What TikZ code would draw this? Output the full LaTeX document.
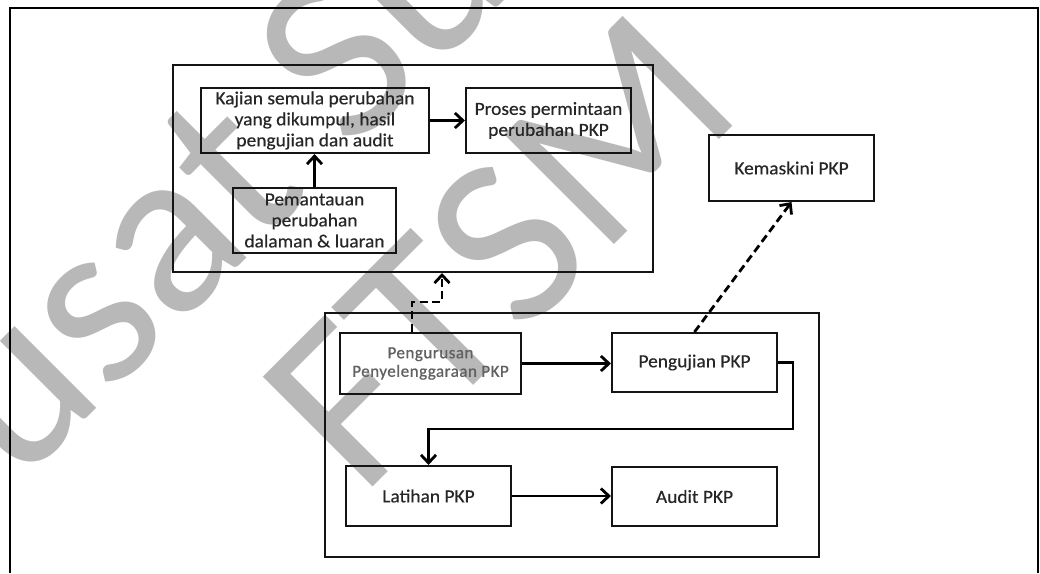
\documentclass[tikz,border=0pt]{standalone}
\usepackage{fontspec}
\setmainfont[FakeStretch=1.05,FakeBold=0.4]{Carlito}
\newfontfamily\mgmtfont[LetterSpace=3,FakeBold=0.9]{Carlito}
\newfontfamily\markfont{Carlito}
\usetikzlibrary{arrows.meta,calc}

\tikzset{
  box/.style={draw=black!92, line width=2.1pt, align=center, inner sep=0pt,
    text=black!85, font=\fontsize{18.5}{21}\selectfont},
  frame/.style={draw=black!92, line width=2pt, inner sep=0pt},
  conn/.style={draw=black, line width=2.8pt,
    -{Straight Barb[length=8pt,width=15pt]}},
  dconn/.style={conn, dash pattern=on 8pt off 4.5pt},
  wmark/.style={text=black!28, inner sep=0pt, anchor=base west, rotate=45,
    font=\markfont\fontsize{242}{250}\selectfont}
}

\begin{document}
\begin{tikzpicture}[x=1pt,y=-1pt]
\useasboundingbox (0,0) rectangle (1040,573);
\fill[white] (0,0) rectangle (1040,573);

% watermark behind the chart
\begin{scope}
\clip (0,0) rectangle (1040,573);
\node[wmark] (wm1) at (-70,575) {Pusat Sumber};
\node[wmark] (wm2) at (361,498.5) {FTSM};
\end{scope}

% page frame (runs past the lower edge)
\draw[line width=2.4pt] (10,573) -- (10,8) -- (1038,8) -- (1038,573);

% review group
\node[frame, minimum width=480pt, minimum height=207pt] (top) at (413,168.5) {};
\node[box, minimum width=228pt, minimum height=65pt] (kaj) at (315,120.5)
  {Kajian semula perubahan\\yang dikumpul, hasil\\pengujian dan audit};
\node[box, minimum width=165pt, minimum height=65pt] (proses) at (548.5,120.5)
  {Proses permintaan\\perubahan PKP};
\node[box, minimum width=163pt, minimum height=65pt] (pem) at (314.5,220.5)
  {Pemantauan\\perubahan\\dalaman \& luaran};

% update box
\node[box, minimum width=165pt, minimum height=66pt] (kem) at (791.5,168)
  {Kemaskini PKP};

% maintenance group
\node[frame, minimum width=494pt, minimum height=244pt] (bot) at (572,435) {};
\node[box, minimum width=181pt, minimum height=61pt, text=black!62,
  font=\mgmtfont\fontsize{17}{18.5}\selectfont] (peng) at (430.5,363.5)
  {Pengurusan\\Penyelenggaraan PKP};
\node[box, minimum width=165pt, minimum height=59pt] (uji) at (694.5,362.5)
  {Pengujian PKP};
\node[box, minimum width=165pt, minimum height=60pt] (lat) at (428.5,496)
  {Latihan PKP};
\node[box, minimum width=165pt, minimum height=59pt] (aud) at (694.5,496.5)
  {Audit PKP};

% solid flow
\draw[conn] (pem.north) -- (pem.north |- kaj.south);
\draw[conn] (kaj.east) -- (kaj.east -| proses.west);
\draw[conn] (peng.east) -- (peng.east -| uji.west);
\coordinate (loop) at (793,429);
\draw[conn] (uji.east) -| (loop) -| (lat.north);
\draw[conn] (lat.east) -- (lat.east -| aud.west);

% dashed feedback
\coordinate (dfoot) at ($(peng.north)+(-18.5,0)$);
\coordinate (dbend) at (442,302);
\draw[dconn] (dfoot) |- (dbend) -- (dbend |- top.south);
\draw[dconn] (uji.north) -- (kem.south);
\end{tikzpicture}
\end{document}
